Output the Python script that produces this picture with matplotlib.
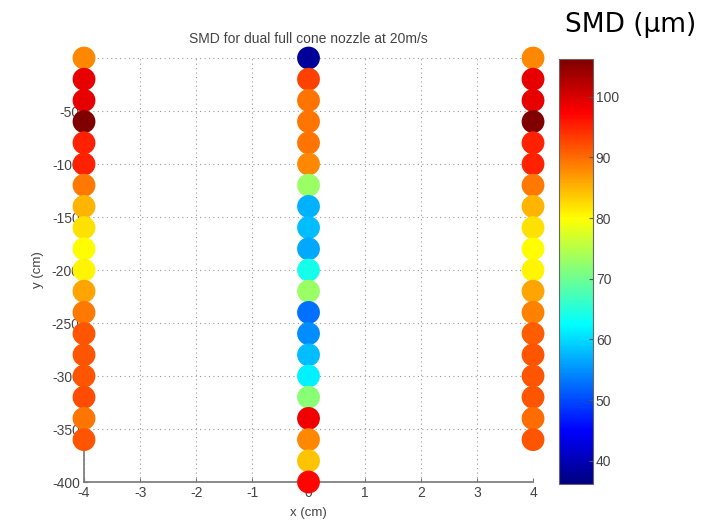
import numpy as np
import matplotlib
matplotlib.use("Agg")
import matplotlib.pyplot as plt
from matplotlib.colors import ListedColormap

plt.rcParams['axes.unicode_minus'] = False
plt.rcParams['font.family'] = ['Liberation Sans', 'DejaVu Sans']

# ---- data ----
y_side = [0, -20, -40, -60, -80, -100, -120, -140, -160, -180, -200,
          -220, -240, -260, -280, -300, -320, -340, -360]
y_center = [0, -20, -40, -60, -80, -100, -120, -140, -160, -180, -200,
            -220, -240, -260, -280, -300, -320, -340, -360, -380, -400]
smd_left = [88, 99, 99, 106, 95, 95, 89, 85, 82, 80, 80.5,
            86, 89, 91.5, 91.5, 91.5, 92, 89.5, 91.5]
smd_center = [38, 93, 89.5, 89.5, 89.5, 88, 73, 57, 58, 56.5, 64,
              73, 52.8, 54.6, 58, 61.6, 72, 98.5, 88, 84, 97]
smd_right = [88, 99, 99, 106, 95, 95, 89, 85, 82, 80, 80.5,
             86, 88.5, 91, 91.5, 91.5, 91.5, 90, 91.5]
x_positions = [-4, 0, 4]
x_ticks = [-4, -3, -2, -1, 0, 1, 2, 3, 4]
y_ticks = [0, -50, -100, -150, -200, -250, -300, -350, -400]
cbar_ticks = [40, 50, 60, 70, 80, 90, 100]
vmin, vmax = 36.2, 106.2

# MATLAB-style jet colormap
t = np.linspace(0, 1, 256)
r = np.clip(1.5 - np.abs(4 * t - 3), 0, 1)
g = np.clip(1.5 - np.abs(4 * t - 2), 0, 1)
b = np.clip(1.5 - np.abs(4 * t - 1), 0, 1)
mjet = ListedColormap(np.column_stack([r, g, b]), name='mjet')

xs = ([x_positions[0]] * len(y_side) + [x_positions[1]] * len(y_center)
      + [x_positions[2]] * len(y_side))
ys = y_side + y_center + y_side
cs = smd_left + smd_center + smd_right

fig = plt.figure(figsize=(7.15, 5.29), dpi=100)
ax = fig.add_axes([0.1175, 0.0888, 0.628, 0.8015])
tc = '#444444'

ax.set_xlim(-4, 4)
ax.set_ylim(-400, 0)
ax.set_xticks(x_ticks)
ax.set_yticks(y_ticks)
ax.grid(True, linestyle=(0, (1, 3)), color='#999999', linewidth=0.8)
ax.set_axisbelow(True)
for s in ['top', 'right']:
    ax.spines[s].set_visible(False)
for s in ['left', 'bottom']:
    ax.spines[s].set_color('#777777')
    ax.spines[s].set_linewidth(1.2)
ax.tick_params(direction='in', length=3, colors='#777777', labelcolor=tc,
               labelsize=10, pad=3)

sc = ax.scatter(xs, ys, c=cs, cmap=mjet, vmin=vmin, vmax=vmax, s=270,
                edgecolors='none', clip_on=False, zorder=5)

ax.set_title('SMD for dual full cone nozzle at 20m/s', fontsize=10,
             color=tc, pad=11)
ax.set_xlabel('x (cm)', fontsize=9.5, color=tc, labelpad=5)
ax.set_ylabel('y (cm)', fontsize=9.5, color=tc, labelpad=6)

cax = fig.add_axes([0.7818, 0.0851, 0.0476, 0.8034])
cb = fig.colorbar(sc, cax=cax, ticks=cbar_ticks)
cb.outline.set_edgecolor('#666666')
cb.ax.tick_params(direction='in', length=3, colors='#555555', labelcolor=tc,
                  labelsize=10, pad=2)

fig.text(0.882, 0.953, 'SMD (µm)', fontsize=19, color='black',
         family='DejaVu Sans', ha='center', va='center')

fig.savefig('out.png', dpi=100)
